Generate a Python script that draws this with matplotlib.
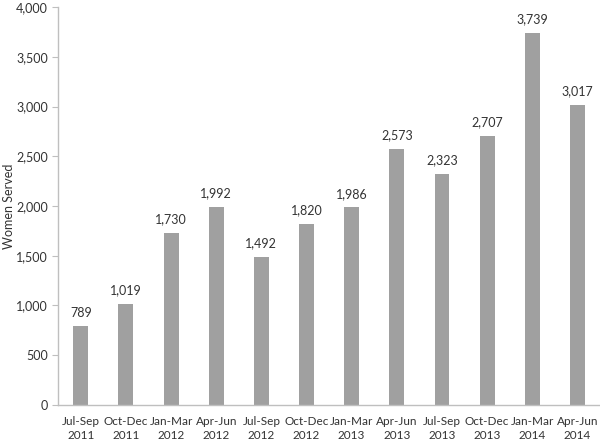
import matplotlib.pyplot as plt
from matplotlib.ticker import FuncFormatter

quarters = ["Jul-Sep\n2011", "Oct-Dec\n2011", "Jan-Mar\n2012", "Apr-Jun\n2012",
            "Jul-Sep\n2012", "Oct-Dec\n2012", "Jan-Mar\n2013", "Apr-Jun\n2013",
            "Jul-Sep\n2013", "Oct-Dec\n2013", "Jan-Mar\n2014", "Apr-Jun\n2014"]
women_served = [789, 1019, 1730, 1992, 1492, 1820, 1986, 2573, 2323, 2707, 3739, 3017]

plt.rcParams['font.family'] = ['Lato', 'DejaVu Sans']
txt = '#333333'
fs = 9

fig = plt.figure(figsize=(6, 4.43), dpi=100)
ax = fig.add_axes([0.097, 0.086, 0.903, 0.898])

x = range(len(quarters))
ax.bar(x, women_served, width=0.33, color='#A0A0A0')
for i, v in zip(x, women_served):
    ax.text(i, v + 75, f"{v:,}", ha='center', va='bottom', fontsize=fs, color=txt)

ax.set_xlim(-0.5, len(quarters) - 0.5)
ax.set_ylim(0, 4000)
ax.set_yticks(range(0, 4001, 500))
ax.yaxis.set_major_formatter(FuncFormatter(lambda v, p: f"{int(v):,}"))
ax.set_xticks(list(x))
ax.set_xticklabels(quarters, linespacing=1.35, fontsize=8.5)
ax.tick_params(axis='x', length=0, pad=8, colors=txt)
ax.tick_params(axis='y', length=4, width=0.8, labelsize=fs, colors=txt)
ax.tick_params(axis='y', color='#BFBFBF')
ax.set_ylabel("Women Served", fontsize=fs, color=txt)
ax.yaxis.set_label_coords(-0.08, 0.5)

for s in ['top', 'right']:
    ax.spines[s].set_visible(False)
for s in ['left', 'bottom']:
    ax.spines[s].set_color('#BFBFBF')
    ax.spines[s].set_linewidth(1)

fig.savefig('out.png', dpi=100)
